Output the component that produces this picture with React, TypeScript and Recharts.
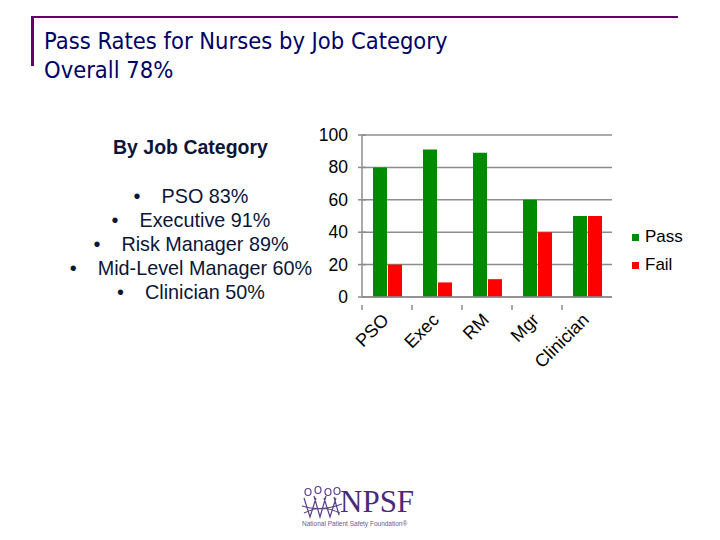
import React from 'react';
import { BarChart, Bar, XAxis, YAxis, CartesianGrid } from 'recharts';

const categories = ['PSO', 'Exec', 'RM', 'Mgr', 'Clinician'];
const passValues = [80, 91, 89, 60, 50];
const failValues = [20, 9, 11, 40, 50];
const yTicks = [0, 20, 40, 60, 80, 100];
const bulletLines = ['PSO 83%', 'Executive 91%', 'Risk Manager 89%', 'Mid-Level Manager 60%', 'Clinician 50%'];

const data = categories.map((name, i) => ({ name, pass: passValues[i], fail: failValues[i] }));

const PASS = '#008a00';
const FAIL = '#ff0000';
const GRID = '#8c8c8c';
const NAVY = '#0b1638';

// tick mark sits on the category boundary, label rotated under the centre
function CategoryTick(props: any) {
  const { x, y, payload } = props;
  const half = 25;
  return (
    <g>
      <line x1={x - half} y1={y} x2={x - half} y2={y + 5} stroke={GRID} strokeWidth={1.5} />
      <text
        x={x + 3}
        y={y + 16}
        textAnchor="end"
        fontSize={18}
        fill="#000"
        fontFamily="Liberation Sans, Arial, sans-serif"
        transform={`rotate(-45 ${x + 3} ${y + 16})`}
      >
        {payload.value}
      </text>
    </g>
  );
}

function ValueTick(props: any) {
  const { x, y, payload } = props;
  return (
    <g>
      <line x1={x + 6} y1={y} x2={x + 14} y2={y} stroke={GRID} strokeWidth={1.5} />
      <text
        x={x - 4}
        y={y + 6}
        textAnchor="end"
        fontSize={17.5}
        fill="#000"
        fontFamily="Liberation Sans, Arial, sans-serif"
      >
        {payload.value}
      </text>
    </g>
  );
}

function Logo() {
  return (
    <svg width={180} height={50} style={{ position: 'absolute', left: 296, top: 484 }}>
      <g stroke="#5b3f8a" strokeWidth={1.2} fill="none">
        <ellipse cx={12} cy={8} rx={3} ry={3.5} />
        <ellipse cx={22} cy={6} rx={3} ry={3.5} />
        <ellipse cx={32} cy={8} rx={3} ry={3.5} />
        <ellipse cx={41} cy={7} rx={3} ry={3.5} />
        <path d="M8 14 L14 33 L20 14 M18 12 L24 33 L30 12 M28 14 L34 33 L40 14 M38 13 L43 31" />
        <path d="M6 22 Q24 28 46 20 M8 29 Q26 20 44 29" />
      </g>
      <text x={44} y={28} fontSize={31} fill="#4a2a78" fontFamily="Liberation Serif, serif">
        NPSF
      </text>
      <text x={6} y={42} fontSize={6.5} fill="#6a5a8a" fontFamily="Liberation Sans, sans-serif">
        National Patient Safety Foundation®
      </text>
    </svg>
  );
}

export default function App() {
  return (
    <div style={{ position: 'absolute', left: 0, top: 0, width: 720, height: 540, background: '#fff', overflow: 'hidden' }}>
      {/* title frame */}
      <div style={{ position: 'absolute', left: 31, top: 16, width: 647, height: 2, background: '#660066' }} />
      <div style={{ position: 'absolute', left: 31, top: 16, width: 3, height: 50, background: '#660066' }} />
      <div
        style={{
          position: 'absolute',
          left: 44,
          top: 27,
          color: '#000066',
          fontFamily: 'DejaVu Sans Condensed, DejaVu Sans, sans-serif',
          fontSize: 23.5,
          lineHeight: '29px',
          whiteSpace: 'nowrap',
        }}
      >
        <div>Pass Rates for Nurses by Job Category</div>
        <div>Overall 78%</div>
      </div>

      {/* left text block */}
      <div
        style={{
          position: 'absolute',
          left: 113,
          top: 136,
          fontFamily: 'Liberation Sans, Arial, sans-serif',
          fontWeight: 'bold',
          fontSize: 19.5,
          color: NAVY,
          whiteSpace: 'nowrap',
        }}
      >
        By Job Category
      </div>
      <div
        style={{
          position: 'absolute',
          left: 41,
          top: 184,
          width: 300,
          textAlign: 'center',
          fontFamily: 'Liberation Sans, Arial, sans-serif',
          fontSize: 19.8,
          lineHeight: '24px',
          color: NAVY,
          whiteSpace: 'nowrap',
        }}
      >
        {bulletLines.map((t) => (
          <div key={t}>
            {'•'}
            <span style={{ display: 'inline-block', width: 21 }} />
            {t}
          </div>
        ))}
      </div>

      {/* chart */}
      <div style={{ position: 'absolute', left: 300, top: 120 }}>
        <BarChart
          width={320}
          height={260}
          data={data}
          margin={{ top: 15, right: 8, left: 0, bottom: 0 }}
          barCategoryGap="22%"
          barGap={1}
        >
          <CartesianGrid vertical={false} stroke={GRID} strokeWidth={1.5} />
          <XAxis
            dataKey="name"
            height={83}
            interval={0}
            axisLine={{ stroke: GRID, strokeWidth: 1.5 }}
            tickLine={false}
            tick={<CategoryTick />}
          />
          <YAxis
            width={62}
            domain={[0, 100]}
            ticks={yTicks}
            axisLine={{ stroke: GRID, strokeWidth: 1.5 }}
            tickLine={false}
            tickSize={0}
            tickMargin={10}
            tick={<ValueTick />}
          />
          <Bar dataKey="pass" fill={PASS} isAnimationActive={false} />
          <Bar dataKey="fail" fill={FAIL} isAnimationActive={false} />
        </BarChart>
      </div>

      {/* legend */}
      <div style={{ position: 'absolute', left: 632, top: 227, fontFamily: 'Liberation Sans, Arial, sans-serif', fontSize: 17, color: '#000' }}>
        <div style={{ display: 'flex', alignItems: 'center', height: 20 }}>
          <span style={{ width: 7, height: 7, background: PASS, marginRight: 6 }} />
          Pass
        </div>
        <div style={{ display: 'flex', alignItems: 'center', height: 20, marginTop: 8 }}>
          <span style={{ width: 7, height: 7, background: FAIL, marginRight: 6 }} />
          Fail
        </div>
      </div>

      <Logo />
    </div>
  );
}
